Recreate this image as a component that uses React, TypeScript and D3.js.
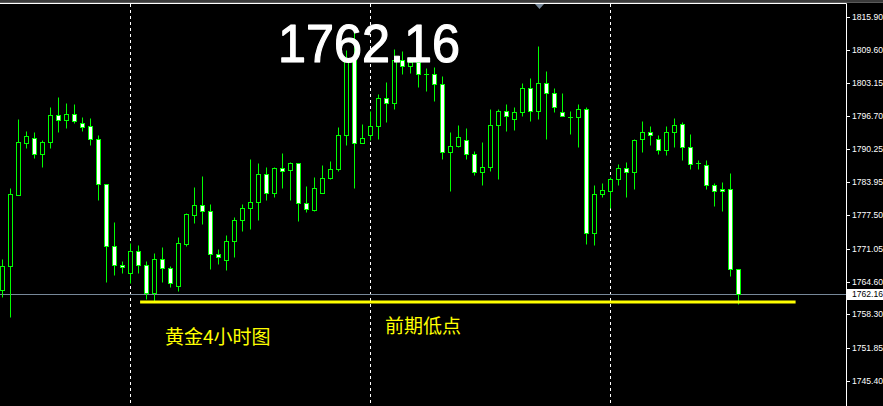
import React from "react";
import * as d3 from "d3";

const OPEN = [1762.96,1767.61,1781.48,1791.55,1792.40,1789.30,1791.63,1796.86,1795.89,1797.05,1795.31,1794.73,1792.21,1783.49,1771.48,1767.80,1766.37,1770.51,1767.80,1762.50,1768.97,1767.22,1763.85,1771.99,1777.60,1779.43,1778.26,1769.93,1768.77,1772.45,1776.52,1778.84,1780.01,1785.43,1781.75,1786.59,1786.20,1787.56,1779.81,1778.46,1781.87,1784.77,1786.40,1792.98,1807.90,1791.55,1792.98,1794.73,1800.15,1799.18,1807.51,1806.35,1807.12,1804.80,1804.80,1802.86,1789.81,1790.85,1792.02,1789.30,1785.82,1786.79,1794.92,1797.63,1796.08,1797.44,1802.09,1797.63,1803.06,1801.12,1797.44,1796.53,1796.47,1798.02,1774.00,1781.56,1782.14,1784.46,1786.59,1785.82,1792.21,1793.56,1792.21,1790.08,1793.56,1795.11,1790.66,1787.56,1787.17,1783.30,1782.52,1782.52,1767.03];
const HIGH = [1769.02,1782.78,1796.14,1793.82,1793.62,1792.07,1798.47,1800.40,1799.24,1799.05,1796.47,1796.33,1792.98,1783.60,1776.19,1768.64,1772.12,1771.74,1768.58,1770.13,1771.29,1767.61,1773.23,1777.99,1782.91,1785.10,1779.62,1770.96,1773.61,1777.10,1779.68,1788.39,1787.62,1786.79,1786.79,1789.56,1787.81,1787.60,1783.11,1784.85,1787.17,1787.95,1794.53,1809.51,1813.77,1795.11,1797.63,1800.92,1803.25,1809.64,1809.37,1808.09,1808.09,1805.96,1806.15,1804.47,1793.56,1794.92,1794.34,1789.88,1791.63,1798.02,1798.02,1798.99,1798.41,1803.06,1804.02,1810.28,1805.38,1802.09,1801.12,1797.63,1798.99,1798.47,1783.30,1783.69,1784.85,1787.37,1787.75,1792.21,1795.70,1794.73,1792.98,1794.73,1796.28,1795.50,1793.18,1788.14,1788.14,1783.69,1783.88,1785.62,1767.10];
const LOW = [1761.61,1757.85,1781.40,1790.58,1788.64,1786.90,1790.58,1793.62,1794.46,1795.42,1793.87,1791.16,1780.51,1764.63,1765.98,1766.37,1764.43,1766.37,1761.33,1760.75,1764.63,1763.66,1762.88,1771.60,1776.06,1775.86,1767.15,1768.11,1766.95,1769.47,1774.51,1774.78,1776.64,1780.51,1781.09,1782.83,1780.51,1776.44,1778.19,1778.26,1781.80,1784.58,1786.13,1791.16,1782.72,1791.43,1792.07,1792.21,1795.62,1798.14,1804.80,1805.11,1802.40,1801.56,1799.63,1788.45,1782.25,1790.80,1788.34,1785.35,1783.42,1786.01,1784.58,1793.76,1793.95,1796.66,1795.70,1796.08,1792.21,1797.44,1796.66,1793.18,1790.78,1771.99,1771.79,1781.09,1778.84,1783.36,1780.97,1782.52,1789.69,1791.05,1789.30,1789.11,1790.66,1788.14,1786.40,1786.40,1782.52,1779.23,1778.26,1765.67,1760.25];
const CLOSE = [1767.73,1781.56,1791.63,1792.79,1789.30,1791.63,1796.86,1795.89,1797.05,1795.70,1794.53,1792.21,1783.49,1771.48,1767.80,1767.42,1770.51,1767.92,1762.50,1768.97,1767.22,1764.43,1772.06,1777.68,1779.43,1778.26,1769.93,1769.35,1772.45,1776.52,1778.84,1780.01,1785.43,1781.75,1786.59,1786.13,1787.56,1779.81,1778.65,1782.72,1784.65,1786.40,1792.98,1807.90,1791.43,1792.40,1794.73,1800.15,1799.18,1807.51,1806.35,1807.12,1804.80,1804.80,1802.86,1789.81,1790.85,1792.60,1789.30,1785.82,1786.79,1794.92,1797.63,1796.66,1797.44,1802.09,1797.63,1803.06,1801.12,1798.41,1796.70,1796.53,1798.02,1774.00,1781.56,1782.33,1784.46,1786.59,1785.82,1792.02,1793.56,1792.98,1790.08,1793.56,1794.92,1790.66,1787.37,1787.56,1783.30,1782.14,1782.14,1767.03,1762.16];

const TICK_VALUES = [1815.90,1809.60,1803.15,1796.70,1790.25,1783.95,1777.50,1771.05,1764.60,1758.30,1751.85,1745.40];
const TICK_LABELS = ["1815.90","1809.60","1803.15","1796.70","1790.25","1783.95","1777.50","1771.05","1764.60","1758.30","1751.85","1745.40"];
const SEPARATOR_BARS = [16, 46, 76];
const CURRENT_PRICE = 1762.16;
const CURRENT_LABEL = "1762.16";
const SUPPORT_PRICE = 1760.7;
const SUPPORT_FROM_BAR = 17.2;
const SUPPORT_TO_BAR = 99.2;
const TITLE = "1762.16";
const NOTE_LEFT = "黄金4小时图";
const NOTE_RIGHT = "前期低点";

const W = 883;
const H = 406;
const GREEN = "#00ff00";

export default function App() {
  const x = d3.scaleLinear().domain([0, 92]).range([2.5, 738.5]);
  const y = d3.scaleLinear().domain([1745.4, 1815.9]).range([381, 17]);
  const px = (v: number) => Math.round(y(v)) + 0.5;

  const candles = OPEN.map((o, i) => {
    const c = CLOSE[i];
    const cx = x(i);
    const top = Math.round(y(Math.max(o, c)));
    const bot = Math.round(y(Math.min(o, c)));
    const bull = c > o;
    return (
      <g key={i}>
        <line x1={cx} x2={cx} y1={px(HIGH[i])} y2={px(LOW[i])} stroke={GREEN} strokeWidth={1} />
        {bot - top < 1 ? (
          <line x1={cx - 2.5} x2={cx + 2.5} y1={top + 0.5} y2={top + 0.5} stroke={GREEN} strokeWidth={1} />
        ) : (
          <rect x={cx - 2} y={top + 0.5} width={4} height={bot - top} fill={bull ? "#000" : "#fff"} stroke={GREEN} strokeWidth={1} />
        )}
      </g>
    );
  });

  const cy = px(CURRENT_PRICE);

  return (
    <svg width={W} height={H} style={{ position: "fixed", left: 0, top: 0, display: "block", background: "#000" }}>
      <rect x={0} y={0} width={W} height={H} fill="#000" />
      <rect x={0} y={0} width={W} height={2} fill="#3a3a3a" />
      <rect x={0} y={2} width={W} height={1} fill="#5a5a5a" />
      {SEPARATOR_BARS.map((b) => (
        <line key={b} x1={Math.floor(x(b)) + 0.5} x2={Math.floor(x(b)) + 0.5} y1={4} y2={H} stroke="#fff" strokeWidth={1} strokeDasharray="3,3" />
      ))}
      <line x1={0} x2={846.5} y1={cy} y2={cy} stroke="#778899" strokeWidth={1} />
      {candles}
      <line x1={x(SUPPORT_FROM_BAR)} x2={x(SUPPORT_TO_BAR) - 0.5} y1={y(SUPPORT_PRICE)} y2={y(SUPPORT_PRICE)} stroke="#ffff00" strokeWidth={3} />
      <line x1={0} x2={846.5} y1={3.5} y2={3.5} stroke="#fff" strokeWidth={1} />
      <line x1={846.5} x2={846.5} y1={3.5} y2={H} stroke="#fff" strokeWidth={1} />
      <polygon points="535,4 544,4 539.5,9" fill="#778899" />
      {TICK_VALUES.map((v, i) => (
        <g key={v}>
          <line x1={847} x2={850} y1={px(v)} y2={px(v)} stroke="#fff" strokeWidth={1} />
          <text x={852} y={y(v)} dy="0.35em" fontFamily="'Liberation Sans', Arial, sans-serif" fontSize={8.6} fill="#fff">{TICK_LABELS[i]}</text>
        </g>
      ))}
      <rect x={847} y={289} width={36} height={11} fill="#fff" />
      <text x={852} y={y(CURRENT_PRICE)} dy="0.35em" fontFamily="'Liberation Sans', Arial, sans-serif" fontSize={8.6} fill="#000">{CURRENT_LABEL}</text>
      <text x={278} y={62} fontFamily="'Liberation Sans', Arial, sans-serif" fontSize={54} fill="#fff" stroke="#fff" strokeWidth={1.2} strokeLinejoin="round" textLength={182} lengthAdjust="spacingAndGlyphs">{TITLE}</text>
      <text x={165} y={343.5} fontFamily="'Noto Sans CJK SC', sans-serif" fontSize={19} fill="#ffff00">{NOTE_LEFT}</text>
      <text x={385} y={332.5} fontFamily="'Noto Sans CJK SC', sans-serif" fontSize={19} fill="#ffff00">{NOTE_RIGHT}</text>
    </svg>
  );
}
